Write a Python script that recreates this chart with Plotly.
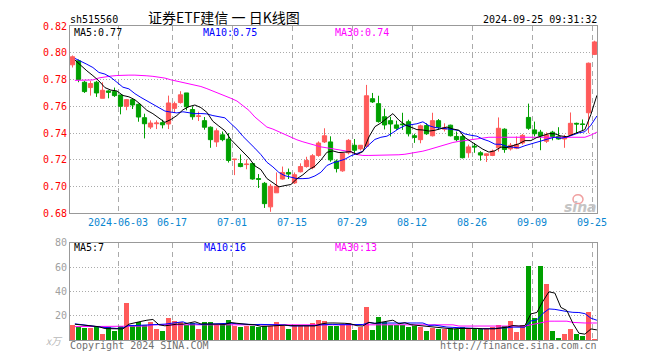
import plotly.graph_objects as go
import pandas as pd

# ---------------- data ----------------
tick_labels = ["2024-06-03", "06-17", "07-01", "07-15", "07-29", "08-12", "08-26", "09-09", "09-25"]
tick_index = [8, 17, 27, 37, 47, 57, 67, 77, 87]

opens = [0.791, 0.794, 0.778, 0.774, 0.778, 0.766, 0.7715, 0.771, 0.7685, 0.760,
         0.765, 0.7615, 0.7515, 0.7445, 0.747, 0.7478, 0.7468, 0.7585, 0.7628, 0.770,
         0.7576, 0.7525, 0.7493, 0.7444, 0.7334, 0.7387, 0.7355, 0.7202, 0.7172, 0.7165,
         0.7172, 0.706, 0.7025, 0.6849, 0.6954, 0.7057, 0.7106, 0.7028, 0.7111, 0.715,
         0.7142, 0.7233, 0.7334, 0.7334, 0.7191, 0.7118, 0.7253, 0.7309, 0.7282, 0.7302,
         0.7657, 0.762, 0.7522, 0.7493, 0.7461, 0.7468, 0.7485, 0.738, 0.7351, 0.7456,
         0.738, 0.7493, 0.7429, 0.7459, 0.7375, 0.7375, 0.7253, 0.7302, 0.7253, 0.7233,
         0.7233, 0.729, 0.7429, 0.7282, 0.7287, 0.7326, 0.7517, 0.7424, 0.7407, 0.7339,
         0.7407, 0.7375, 0.7356, 0.7387, 0.7473, 0.7468, 0.7552, 0.7988]
highs = [0.798, 0.795, 0.779, 0.779, 0.779, 0.778, 0.772, 0.774, 0.7685, 0.7655,
         0.766, 0.762, 0.7545, 0.7495, 0.7495, 0.750, 0.768, 0.7635, 0.7713, 0.770,
         0.760, 0.756, 0.752, 0.745, 0.7435, 0.7412, 0.740, 0.7206, 0.724, 0.7204,
         0.718, 0.7094, 0.7035, 0.702, 0.7106, 0.715, 0.7135, 0.7106, 0.7174, 0.7223,
         0.7243, 0.7338, 0.7436, 0.7376, 0.7203, 0.7253, 0.7355, 0.7356, 0.731, 0.776,
         0.770, 0.7679, 0.7583, 0.7522, 0.7493, 0.7552, 0.750, 0.7395, 0.7463, 0.7473,
         0.7552, 0.7505, 0.7473, 0.7463, 0.7412, 0.7387, 0.7314, 0.7326, 0.7265, 0.7248,
         0.7277, 0.7517, 0.7436, 0.7326, 0.7375, 0.7393, 0.762, 0.7486, 0.7424, 0.7405,
         0.7417, 0.7444, 0.7387, 0.7554, 0.7478, 0.7502, 0.7927, 0.809]
lows = [0.789, 0.778, 0.770, 0.768, 0.767, 0.766, 0.766, 0.767, 0.754, 0.7571,
        0.758, 0.7485, 0.736, 0.743, 0.743, 0.7435, 0.743, 0.755, 0.762, 0.757,
        0.750, 0.749, 0.7425, 0.729, 0.7297, 0.7339, 0.718, 0.7086, 0.7145, 0.713,
        0.7052, 0.699, 0.6841, 0.6812, 0.6954, 0.7052, 0.7057, 0.702, 0.7106, 0.7142,
        0.713, 0.7223, 0.7326, 0.7186, 0.7106, 0.7111, 0.7241, 0.724, 0.727, 0.729,
        0.7625, 0.7478, 0.7427, 0.7375, 0.7424, 0.7424, 0.7375, 0.7327, 0.7324, 0.7387,
        0.7375, 0.7425, 0.7412, 0.7375, 0.7339, 0.7211, 0.7216, 0.7253, 0.7194, 0.7184,
        0.7228, 0.7262, 0.7253, 0.727, 0.728, 0.7314, 0.7424, 0.7375, 0.7272, 0.7326,
        0.7346, 0.7351, 0.729, 0.7382, 0.740, 0.7424, 0.740, 0.7983]
closes = [0.797, 0.780, 0.771, 0.777, 0.770, 0.772, 0.7705, 0.768, 0.760, 0.765,
          0.761, 0.752, 0.747, 0.7475, 0.7475, 0.7462, 0.7625, 0.762, 0.7686, 0.7596,
          0.7522, 0.7528, 0.7444, 0.7351, 0.7417, 0.7351, 0.7196, 0.7205, 0.715, 0.7168,
          0.7057, 0.7055, 0.6873, 0.7003, 0.7003, 0.7106, 0.7094, 0.7089, 0.715, 0.7196,
          0.7231, 0.7326, 0.738, 0.720, 0.7135, 0.7248, 0.7346, 0.7272, 0.7309, 0.7679,
          0.7633, 0.7486, 0.7461, 0.7468, 0.7436, 0.7463, 0.7395, 0.7368, 0.7454, 0.7395,
          0.7493, 0.7444, 0.7441, 0.738, 0.7351, 0.7216, 0.7297, 0.7297, 0.7236, 0.7245,
          0.7265, 0.7436, 0.7277, 0.7309, 0.7314, 0.7383, 0.7436, 0.7395, 0.738, 0.7387,
          0.7375, 0.7356, 0.7368, 0.7473, 0.7468, 0.7465, 0.7922, 0.8081]
volumes = [12.5, 11.2, 9.9, 9.9, 11.2, 4.8, 10.7, 7.5, 11.5, 30.7,
           12.0, 14.7, 12.5, 14.7, 9.0, 7.5, 17.9, 16.0, 14.7, 12.5,
           14.1, 9.0, 14.7, 14.7, 12.5, 13.3, 16.8, 11.5, 10.7, 11.5,
           12.0, 10.7, 12.0, 11.5, 14.7, 12.0, 9.0, 11.5, 11.5, 11.5,
           14.4, 16.8, 15.5, 12.0, 12.0, 12.5, 14.4, 8.0, 10.7, 27.2,
           8.0, 19.2, 14.7, 12.5, 12.5, 12.5, 10.7, 12.0, 10.7, 7.5,
           9.9, 9.3, 8.8, 10.1, 9.3, 10.7, 8.8, 8.8, 8.8, 8.8,
           10.7, 12.5, 12.0, 15.5, 6.7, 12.5, 60.8, 17.9, 61.3, 45.9,
           7.2, 1.9, 4.8, 8.8, 5.3, 3.2, 23.5, 0.8]

# moving-average values at the left edge (need data before the window)
ma5_head = [0.7946, 0.7902, 0.7865, 0.7829]
ma10_head = [0.7958, 0.7939, 0.7914, 0.789, 0.7853, 0.7841, 0.7816, 0.778, 0.7743]
ma30_price = [0.7794, 0.7794, 0.7795, 0.7797, 0.7812, 0.7820, 0.7826, 0.7830, 0.7833, 0.7833,
              0.7833, 0.7832, 0.7828, 0.7824, 0.7818, 0.7811, 0.7798, 0.7788, 0.7780, 0.7770,
              0.7760, 0.7748, 0.7732, 0.7715, 0.7698, 0.7680, 0.7660, 0.7640, 0.7608, 0.7570,
              0.7520, 0.7480, 0.7445, 0.7430, 0.7410, 0.7387, 0.7370, 0.7350, 0.7335, 0.7322,
              0.7305, 0.7297, 0.7290, 0.7283, 0.7277, 0.7268, 0.7260, 0.7240, 0.7233, 0.7233,
              0.7233, 0.7233, 0.7233, 0.7233, 0.7238, 0.7242, 0.7248, 0.7255, 0.7265, 0.7277,
              0.7290, 0.7302, 0.7318, 0.7330, 0.7338, 0.7345, 0.7352, 0.7360, 0.7367, 0.7369,
              0.7369, 0.7369, 0.7369, 0.7369, 0.7369, 0.7369, 0.7369, 0.7369, 0.7369, 0.7369,
              0.7369, 0.7369, 0.7369, 0.7369, 0.7369, 0.7369, 0.7385, 0.7407]
vol_ma5_head = [13.0, 12.5, 11.8, 11.2]
vol_ma10_head = [13.3, 12.5, 12.0, 11.5, 10.7, 10.5, 10.0, 9.5, 10.0]
vol_ma30 = [11.0] * 8 + [11.5] * 5 + [12.5] * 51 + [11.5] * 12 + \
           [12.5, 13.5, 15.0, 15.5, 15.5, 15.5, 15.5, 14.5, 14.0, 14.0, 14.0, 14.0]

price_ticks = [0.68, 0.70, 0.72, 0.74, 0.76, 0.78, 0.80, 0.82]
vol_ticks = [20, 40, 60, 80]

# ---------------- derived ----------------
n = len(closes)
x = list(range(n))
ma5 = pd.Series(closes).rolling(5).mean().tolist()
ma5[:len(ma5_head)] = ma5_head
ma10 = pd.Series(closes).rolling(10).mean().tolist()
ma10[:len(ma10_head)] = ma10_head
vma5 = pd.Series(volumes).rolling(5).mean().tolist()
vma5[:len(vol_ma5_head)] = vol_ma5_head
vma10 = pd.Series(volumes).rolling(10).mean().tolist()
vma10[:len(vol_ma10_head)] = vol_ma10_head

RED = "#ff5a5a"
GREEN = "#00a000"
GRAY = "#999999"
MONO = "DejaVu Sans Mono"

# pixel geometry of the page (the page body has an 8px default margin)
OFF = 8
W, H = 660 - OFF, 360 - OFF
L, R, T, B = 70, 597, 20, 340
PW, PH = R - L, B - T


def px(xp):
    return (xp - L) / PW


def py(yp):
    return (B - yp) / PH


x0 = -2.5 / 6.0
x1 = x0 + PW / 6.0
lx = [v + 0.4 for v in x]

bar_colors = [RED if c >= o else GREEN for o, c in zip(opens, closes)]

fig = go.Figure()
fig.add_trace(go.Candlestick(
    x=x, open=opens, high=highs, low=lows, close=closes,
    increasing=dict(line=dict(color=RED, width=1), fillcolor=RED),
    decreasing=dict(line=dict(color=GREEN, width=1), fillcolor=GREEN),
    whiskerwidth=0, xaxis="x", yaxis="y", hoverinfo="skip", showlegend=False))
for vals, col in [(ma30_price, "#ff00ff"), (ma10, "#0000ff"), (ma5, "#000000")]:
    fig.add_trace(go.Scatter(x=lx, y=vals, mode="lines", line=dict(color=col, width=1),
                             xaxis="x", yaxis="y", hoverinfo="skip", showlegend=False))

fig.add_trace(go.Bar(x=x, y=volumes, width=0.83, marker=dict(color=bar_colors, line=dict(width=0)),
                     xaxis="x2", yaxis="y2", hoverinfo="skip", showlegend=False))
for vals, col in [(vol_ma30, "#ff00ff"), (vma10, "#0000ff"), (vma5, "#000000")]:
    fig.add_trace(go.Scatter(x=lx, y=vals, mode="lines", line=dict(color=col, width=1),
                             xaxis="x2", yaxis="y2", hoverinfo="skip", showlegend=False))

grid_x = [t - 0.417 for t in tick_index]
main_bottom = py(211)
vol_top = py(241)

common_x = dict(range=[x0, x1], tickvals=grid_x, showgrid=True, gridcolor="#aaaaaa",
                griddash="5px,4px", gridwidth=1, showline=True, mirror=True,
                linecolor=GRAY, linewidth=1, zeroline=False, ticks="", fixedrange=True)
fig.update_layout(
    width=W, height=H,
    margin=dict(l=L - OFF, r=660 - R, t=T - OFF, b=360 - B),
    paper_bgcolor="white", plot_bgcolor="white",
    boxgap=0.3, boxgroupgap=0, bargap=0,
    xaxis=dict(domain=[0, 1], anchor="y", ticktext=tick_labels,
               tickfont=dict(family=MONO, size=10, color="#0a86d0"),
               rangeslider=dict(visible=False), **common_x),
    xaxis2=dict(domain=[0, 1], anchor="y2", matches="x", showticklabels=False, **common_x),
    yaxis=dict(domain=[main_bottom, 1], range=[0.68, 0.82], tickvals=price_ticks,
               ticktext=["%.2f" % v for v in price_ticks],
               tickfont=dict(family=MONO, size=10, color="#ff0000"),
               showgrid=True, gridcolor="#aaaaaa", griddash="1px,2px", gridwidth=1,
               showline=True, mirror=True, linecolor=GRAY, linewidth=1, zeroline=False,
               ticks="", fixedrange=True),
    yaxis2=dict(domain=[0, vol_top], range=[0, 80], tickvals=vol_ticks,
                ticktext=[str(v) for v in vol_ticks],
                tickfont=dict(family=MONO, size=10, color="#a0a0a0"),
                showgrid=True, gridcolor="#aaaaaa", griddash="1px,2px", gridwidth=1,
                showline=True, mirror=True, linecolor=GRAY, linewidth=1, zeroline=False,
                ticks="", fixedrange=True),
)


def note(text, xp, yp, anchor="left", color="#000", size=10, family=MONO, **kw):
    fig.add_annotation(text=text, x=px(xp), y=py(yp), xref="paper", yref="paper",
                       xanchor=anchor, yanchor="middle", showarrow=False, borderpad=0,
                       font=dict(family=family, size=size, color=color), **kw)


note("sh515560", 69, 13)
note("证券ETF建信 一 日K线图", 224, 11, anchor="center", size=14, family="Noto Sans CJK SC")
note("2024-09-25 09:31:32", 598, 13, anchor="right")
note("MA5:0.77", 73, 27)
note("MA10:0.75", 202, 27, color="#0000ff")
note("MA30:0.74", 334, 27, color="#ff00ff")
note("MA5:7", 73, 246)
note("MA10:16", 203, 246, color="#0000ff")
note("MA30:13", 334, 246, color="#ff00ff")
note("Copyright 2024 SINA.COM", 69, 346, color="#707070")
note("http://finance.sina.com.cn", 598, 346, anchor="right", color="#707070")
note("<i>x万</i>", 64, 340, anchor="right", color="#b8b8b8", family="Noto Sans CJK SC")
note("<b><i>sina</i></b>", 580, 204, anchor="center", color="#c4c4c4", size=14, family="DejaVu Sans")
fig.add_shape(type="circle", xref="paper", yref="paper",
              x0=px(573), x1=px(583), y0=py(201), y1=py(192),
              line=dict(color="#f0a0a0", width=1.5), fillcolor="rgba(0,0,0,0)")

fig.write_html("out.html")
